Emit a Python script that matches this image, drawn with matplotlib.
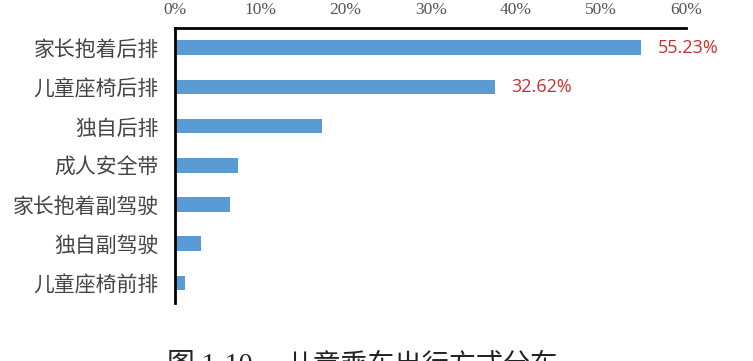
import matplotlib.pyplot as plt

# 数据
categorias = ["家长抱着后排", "儿童座椅后排", "独自后排", "成人安全带",
              "家长抱着副驾驶", "独自副驾驶", "儿童座椅前排"]
valores = [54.7, 37.5, 17.25, 7.3, 6.45, 3.0, 1.15]
etiquetas = ["55.23%", "32.62%"]
ticks = [0, 10, 20, 30, 40, 50, 60]

plt.rcParams['font.family'] = ['Liberation Serif', 'Noto Sans CJK SC']

fig = plt.figure(figsize=(7.53, 3.61), dpi=100)
ax = fig.add_axes([0.233, 0.162, 0.678, 0.760])

pos = list(range(len(categorias)))
ax.barh(pos, valores, height=0.375, color='#5B9BD5')

ax.set_ylim(len(categorias) - 0.5, -0.5)
ax.set_xlim(0, 60)
ax.set_yticks(pos)
ax.set_yticklabels(categorias, fontsize=15, color='#444444',
                   family=['Noto Sans CJK SC'], fontweight='light')
ax.set_xticks(ticks)
ax.set_xticklabels([f"{t}%" for t in ticks], fontsize=12.5, color='#555555')
ax.xaxis.tick_top()
ax.tick_params(axis='x', length=0, pad=7)
ax.tick_params(axis='y', length=0, pad=12)

for s in ['bottom', 'right']:
    ax.spines[s].set_visible(False)
for s in ['top', 'left']:
    ax.spines[s].set_linewidth(2)
    ax.spines[s].set_color('black')

# etiquetas de datos
for i, txt in enumerate(etiquetas):
    ax.annotate(txt, (valores[i], pos[i]), xytext=(12, 0), textcoords='offset points',
                va='center', ha='left', fontsize=13, color='#C8302E',
                family=['Open Sans'])

# título (cortado abajo, como en la imagen original)
fig.text(167 / 753, 1 - 353 / 361, "图 1-10", fontsize=20,
         va='top', ha='left', color='#222222')
fig.text(286 / 753, 1 - 353 / 361, "儿童乘车出行方式分布", fontsize=19.5,
         va='top', ha='left', color='#222222')

plt.savefig("out.png", dpi=100)
